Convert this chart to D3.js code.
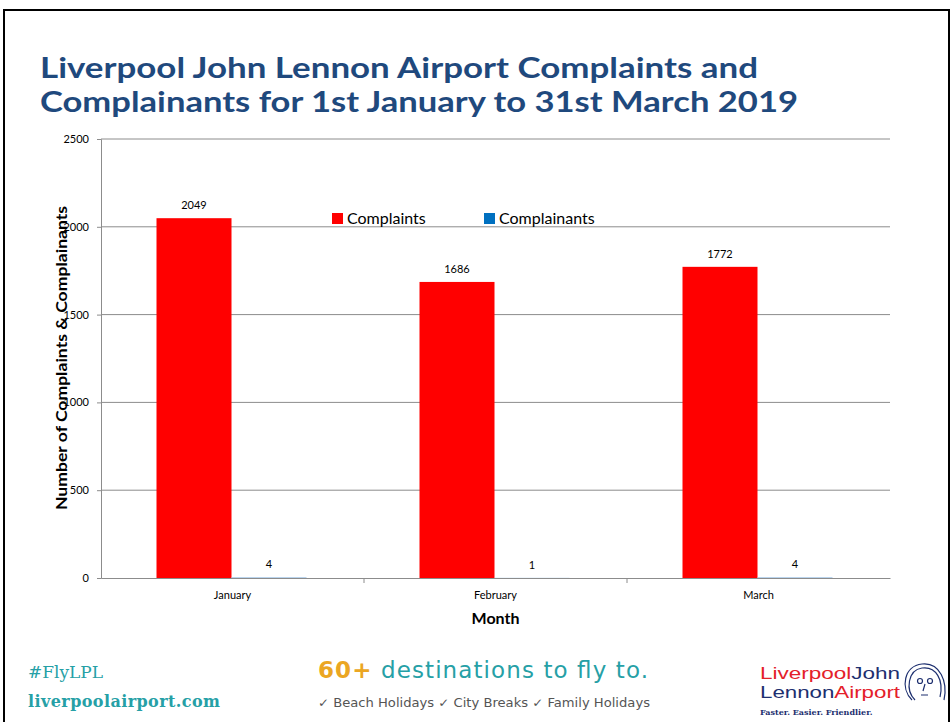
<!DOCTYPE html>
<meta charset="utf-8" />
<style>
  body { margin: 0; background: #fff; }
  svg { display: block; }
</style>
<script src="https://d3js.org/d3.v7.min.js"></script>
<div id="chart"></div>
<script>
  // data
  const months = ["January", "February", "March"];
  const series = ["Complaints", "Complainants"];
  const complaints = [2049, 1686, 1772];
  const complainants = [4, 1, 4];
  const yTicks = [0, 500, 1000, 1500, 2000, 2500];
  const colors = ["#FF0000", "#0070C0"];

  const W = 952, H = 722;
  const font = "Lato, 'Open Sans', sans-serif";

  const svg = d3.select("#chart").append("svg")
      .attr("width", W).attr("height", H);

  // slide frame
  svg.append("path")
      .attr("d", `M4,${H + 2} V10 H949 V${H + 2}`)
      .attr("fill", "none").attr("stroke", "#000").attr("stroke-width", 2);

  // title
  const title = svg.append("text")
      .attr("x", 40).attr("font-family", font)
      .attr("font-size", 29).attr("font-weight", "bold")
      .attr("fill", "#1F497D");
  title.append("tspan").attr("x", 40).attr("y", 78)
      .attr("textLength", 718).attr("lengthAdjust", "spacingAndGlyphs")
      .text("Liverpool John Lennon Airport Complaints and");
  title.append("tspan").attr("x", 40).attr("y", 112)
      .attr("textLength", 758).attr("lengthAdjust", "spacingAndGlyphs")
      .text("Complainants for 1st January to 31st March 2019");

  const margin = { left: 101, right: 890, top: 139, bottom: 578 };

  const x = d3.scaleBand().domain(months).range([margin.left, margin.right]);
  const xs = d3.scaleBand().domain(series).range([0, 150]);
  const y = d3.scaleLinear().domain([0, 2500]).range([margin.bottom, margin.top]);

  // gridlines
  svg.append("g").selectAll("line").data(yTicks.filter(d => d > 0)).join("line")
      .attr("x1", margin.left).attr("x2", margin.right)
      .attr("y1", d => y(d)).attr("y2", d => y(d))
      .attr("stroke", "#8c8c8c").attr("stroke-width", 1);

  // y axis
  const yAxis = svg.append("g")
      .attr("transform", `translate(${margin.left},0)`)
      .call(d3.axisLeft(y).tickValues(yTicks).tickSize(4).tickPadding(8).tickFormat(d3.format("d")));
  yAxis.select(".domain").attr("stroke", "#8c8c8c");
  yAxis.selectAll(".tick line").attr("stroke", "#8c8c8c");
  yAxis.selectAll("text").attr("font-family", font).attr("font-size", 11).attr("fill", "#000");

  const groups = months.map((m, i) => ({ month: m, values: [complaints[i], complainants[i]] }));

  const g = svg.append("g").selectAll("g").data(groups).join("g")
      .attr("transform", d => `translate(${x(d.month) + x.bandwidth() / 2 - 76},0)`);

  g.selectAll("rect").data(d => d.values.map((v, j) => ({ s: series[j], v, j }))).join("rect")
      .attr("x", d => xs(d.s))
      .attr("width", xs.bandwidth())
      .attr("y", d => y(d.v))
      .attr("height", d => Math.max(1, y(0) - y(d.v)))
      .attr("fill", (d) => d.j === 0 ? colors[0] : "#9DC3E6");

  g.selectAll("text").data(d => d.values.map((v, j) => ({ s: series[j], v }))).join("text")
      .attr("x", d => xs(d.s) + xs.bandwidth() / 2)
      .attr("y", d => y(d.v) - 9)
      .attr("text-anchor", "middle")
      .attr("font-family", font).attr("font-size", 11)
      .text(d => d.v);

  // x axis
  const xAxis = svg.append("g")
      .attr("transform", `translate(0,${margin.bottom})`)
      .call(d3.axisBottom(x).tickSize(0).tickPadding(13));
  xAxis.select(".domain").attr("stroke", "#8c8c8c");
  xAxis.selectAll("text").attr("font-family", font).attr("font-size", 11).attr("fill", "#000");
  // category separators
  svg.append("g").selectAll("line").data(months.slice(1)).join("line")
      .attr("x1", d => x(d)).attr("x2", d => x(d))
      .attr("y1", margin.bottom).attr("y2", margin.bottom + 5)
      .attr("stroke", "#8c8c8c");

  // axis titles
  svg.append("text")
      .attr("x", (margin.left + margin.right) / 2).attr("y", 624)
      .attr("text-anchor", "middle")
      .attr("font-family", font).attr("font-size", 16).attr("font-weight", "bold")
      .text("Month");
  svg.append("text")
      .attr("transform", `translate(67,358) rotate(-90)`)
      .attr("text-anchor", "middle")
      .attr("font-family", font).attr("font-size", 16).attr("font-weight", "bold")
      .attr("textLength", 304).attr("lengthAdjust", "spacingAndGlyphs")
      .text("Number of Complaints & Complainants");

  // legend
  const legX = [332, 484];
  const leg = svg.append("g").selectAll("g").data(series).join("g")
      .attr("transform", (d, i) => `translate(${legX[i]},213)`);
  leg.append("rect").attr("width", 11).attr("height", 11)
      .attr("fill", (d, i) => colors[i]);
  leg.append("text").attr("x", 15).attr("y", 11)
      .attr("font-family", font).attr("font-size", 16)
      .text(d => d);

  // footer
  const teal = "#26A0A6";
  svg.append("text").attr("x", 28).attr("y", 678)
      .attr("font-family", "'DejaVu Serif', serif").attr("font-size", 17)
      .attr("fill", teal).text("#FlyLPL");
  svg.append("text").attr("x", 28).attr("y", 707)
      .attr("font-family", "'DejaVu Serif', serif").attr("font-size", 16).attr("font-weight", "bold")
      .attr("fill", teal).attr("textLength", 192).text("liverpoolairport.com");

  const dest = svg.append("text").attr("x", 318).attr("y", 678)
      .attr("font-family", "'DejaVu Sans', sans-serif").attr("font-size", 23)
      .attr("textLength", 330);
  dest.append("tspan").attr("fill", "#EBA623").attr("font-weight", "bold").text("60+");
  dest.append("tspan").attr("fill", teal).text(" destinations to fly to.");

  svg.append("text").attr("x", 318).attr("y", 707)
      .attr("font-family", "'DejaVu Sans', sans-serif").attr("font-size", 12).attr("fill", "#555")
      .attr("textLength", 332).attr("lengthAdjust", "spacingAndGlyphs")
      .text("\u2713 Beach Holidays  \u2713 City Breaks  \u2713 Family Holidays");

  // logo text
  const logo1 = svg.append("text").attr("x", 760).attr("y", 679)
      .attr("font-family", "'Liberation Sans', sans-serif").attr("font-size", 16)
      .attr("textLength", 140).attr("lengthAdjust", "spacingAndGlyphs");
  logo1.append("tspan").attr("fill", "#E4202A").text("Liverpool");
  logo1.append("tspan").attr("fill", "#1D2F6F").text("John");
  const logo2 = svg.append("text").attr("x", 760).attr("y", 698)
      .attr("font-family", "'Liberation Sans', sans-serif").attr("font-size", 16)
      .attr("textLength", 140).attr("lengthAdjust", "spacingAndGlyphs");
  logo2.append("tspan").attr("fill", "#1D2F6F").text("Lennon");
  logo2.append("tspan").attr("fill", "#E4202A").text("Airport");
  svg.append("text").attr("x", 760).attr("y", 715)
      .attr("font-family", "'DejaVu Serif', serif").attr("font-size", 8).attr("font-weight", "bold")
      .attr("fill", "#1D2F6F").text("Faster. Easier. Friendlier.");

  // little face sketch
  const face = svg.append("g").attr("fill", "none").attr("stroke", "#1D2F6F").attr("stroke-width", 1.2);
  face.append("path").attr("d", "M915,700 C905,690 908,670 922,668 C936,666 944,680 940,697");
  face.append("path").attr("d", "M912,700 C900,688 904,666 922,664 C940,662 948,682 944,700");
  face.append("circle").attr("cx", 920).attr("cy", 681).attr("r", 2.5);
  face.append("circle").attr("cx", 930).attr("cy", 681).attr("r", 2.5);
  face.append("path").attr("d", "M925,684 L923,691 M921,695 L928,695");
</script>
